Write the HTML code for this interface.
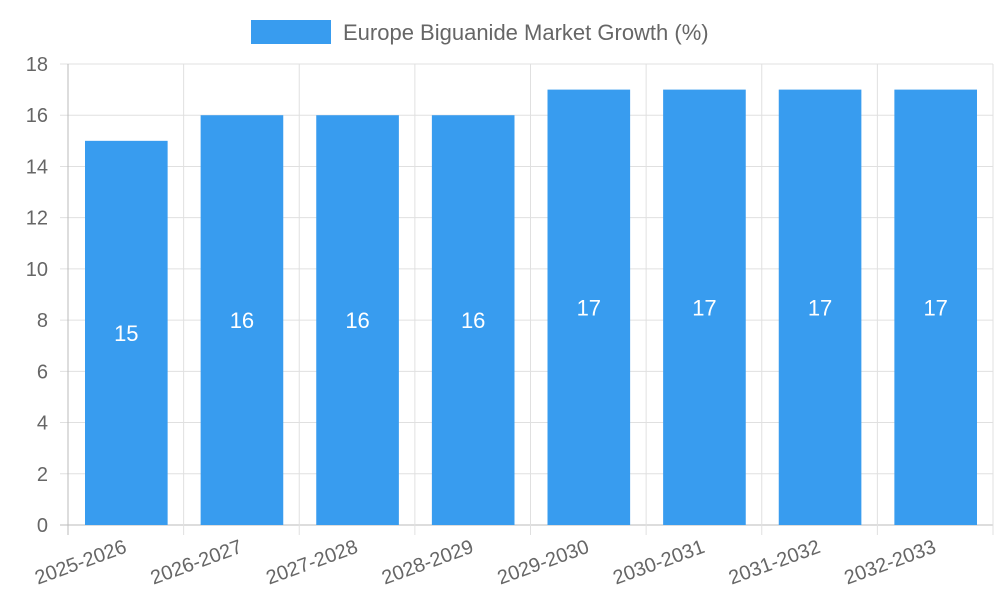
<!DOCTYPE html>
<html><head><meta charset="utf-8"><style>
body{margin:0;background:#fff;}
svg{display:block;font-family:"Liberation Sans",sans-serif;}
</style></head><body>
<svg id="chart" width="1000" height="600">
<g>
<rect x="251" y="20" width="80" height="24" fill="#389cef"></rect>
<text x="343" y="40" font-size="22" fill="#666">Europe Biguanide Market Growth (%)</text>
</g>
<g id="grid"></g><g id="bars"></g><g id="labels"></g>
</svg>
<script>
const categories=["2025-2026","2026-2027","2027-2028","2028-2029","2029-2030","2030-2031","2031-2032","2032-2033"];
const values=[15,16,16,16,17,17,17,17];
const yTicks=[0,2,4,6,8,10,12,14,16,18];
const NS="http://www.w3.org/2000/svg";
const L=68,R=993,T=64,B=525,yMax=18;
const bw=(R-L)/categories.length;
const y=v=>B-(v/yMax)*(B-T);
const x=i=>L+i*bw;
function mk(tag,attrs,parent,text){const e=document.createElementNS(NS,tag);for(const k in attrs)e.setAttribute(k,attrs[k]);if(text!==undefined)e.textContent=text;parent.appendChild(e);return e;}
const grid=document.getElementById('grid'),bars=document.getElementById('bars'),labels=document.getElementById('labels');
yTicks.forEach(t=>{
  const l=mk('line',{x1:L-8,x2:R,y1:y(t),y2:y(t),stroke:t===0?'#bbb':'#e0e0e0','stroke-width':1},grid);
  
  
  const tx=mk('text',{x:L-20,y:y(t)+7,'font-size':20,fill:'#666','text-anchor':'end'},grid,String(t));
  
  
});
for(let i=0;i<=categories.length;i++){
  const l=mk('line',{x1:x(i),x2:x(i),y1:T,y2:B+10,stroke:i===0?'#bbb':'#e0e0e0','stroke-width':1},grid);
  
  
}
categories.forEach((c,i)=>{
  const bx=x(i)+17,w=bw-33;
  const r=mk('rect',{x:bx,y:y(values[i]),width:w,height:B-y(values[i]),fill:'#389cef'},bars);
  
  
  const v=mk('text',{x:bx+w/2,y:(y(values[i])+B)/2+8,'font-size':22,fill:'#fff','text-anchor':'middle'},labels,String(values[i]));
  
  
  const cx=x(i)+bw/2+2;
  const t=mk('text',{x:cx,y:552,'font-size':20,fill:'#666','text-anchor':'end',transform:`rotate(-20 ${cx} 552)`},labels,c);
  
  
});
</script>
</body></html>
